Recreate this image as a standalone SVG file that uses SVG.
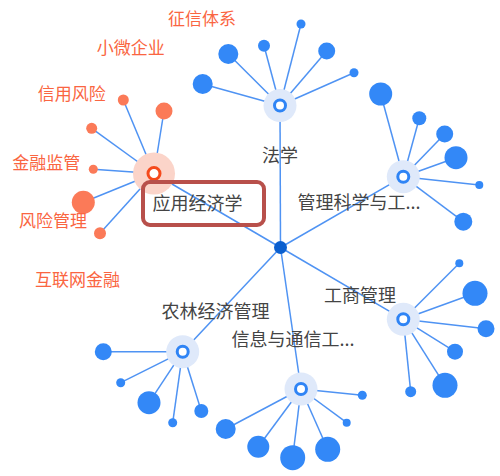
<svg xmlns="http://www.w3.org/2000/svg" width="500" height="476" viewBox="0 0 500 476">
<defs>
<style>
.ln{stroke:#4f93f3;stroke-width:1.5;fill:none}
.lf{fill:#3388f7}
.ol{fill:#fb7a58}
.halo{fill:#dfe9fa}
.ohalo{fill:#fbd4c9}
.hub{fill:#fff;stroke:#2f84f5;stroke-width:3}
.ohub{fill:#fff;stroke:#f54a1c;stroke-width:3}
.lab{font-family:"Noto Sans CJK SC","Noto Sans",sans-serif;font-size:18px;fill:#444}
.olab{font-family:"Noto Sans CJK SC","Noto Sans",sans-serif;font-size:17px;fill:#fa6541}
</style>
</defs>
<rect width="500" height="476" fill="#fff"/>
<g id="connectors">
<line class="ln" x1="280.5" y1="247.5" x2="154" y2="173.5"/>
<line class="ln" x1="280.5" y1="247.5" x2="280" y2="105.5"/>
<line class="ln" x1="280.5" y1="247.5" x2="403.3" y2="176.7"/>
<line class="ln" x1="280.5" y1="247.5" x2="403.3" y2="319.3"/>
<line class="ln" x1="280.5" y1="247.5" x2="301" y2="389"/>
<line class="ln" x1="280.5" y1="247.5" x2="182.7" y2="351.7"/>
<!-- 应用经济学 -->
<line class="ln" x1="154" y1="173.5" x2="123.3" y2="100"/>
<line class="ln" x1="154" y1="173.5" x2="164" y2="111"/>
<line class="ln" x1="154" y1="173.5" x2="91.7" y2="128.3"/>
<line class="ln" x1="154" y1="173.5" x2="93.3" y2="169.3"/>
<line class="ln" x1="154" y1="173.5" x2="83.3" y2="202.3"/>
<line class="ln" x1="154" y1="173.5" x2="100" y2="233.3"/>
<!-- 法学 -->
<line class="ln" x1="280" y1="105.5" x2="202.7" y2="84"/>
<line class="ln" x1="280" y1="105.5" x2="228.3" y2="54"/>
<line class="ln" x1="280" y1="105.5" x2="264" y2="45.7"/>
<line class="ln" x1="280" y1="105.5" x2="301" y2="24"/>
<line class="ln" x1="280" y1="105.5" x2="326.7" y2="51"/>
<line class="ln" x1="280" y1="105.5" x2="354" y2="72.7"/>
<!-- 管理科学与工 -->
<line class="ln" x1="403.3" y1="176.7" x2="380.7" y2="94"/>
<line class="ln" x1="403.3" y1="176.7" x2="419.3" y2="118.3"/>
<line class="ln" x1="403.3" y1="176.7" x2="444.7" y2="134"/>
<line class="ln" x1="403.3" y1="176.7" x2="456" y2="157.7"/>
<line class="ln" x1="403.3" y1="176.7" x2="479.3" y2="185"/>
<line class="ln" x1="403.3" y1="176.7" x2="463.3" y2="221.7"/>
<!-- 工商管理 -->
<line class="ln" x1="403.3" y1="319.3" x2="459.3" y2="263.3"/>
<line class="ln" x1="403.3" y1="319.3" x2="475" y2="293.3"/>
<line class="ln" x1="403.3" y1="319.3" x2="486" y2="328.7"/>
<line class="ln" x1="403.3" y1="319.3" x2="455" y2="351.7"/>
<line class="ln" x1="403.3" y1="319.3" x2="445" y2="385.3"/>
<line class="ln" x1="403.3" y1="319.3" x2="410.7" y2="391.7"/>
<!-- 信息与通信工 -->
<line class="ln" x1="301" y1="389" x2="225.7" y2="429"/>
<line class="ln" x1="301" y1="389" x2="258.3" y2="446.7"/>
<line class="ln" x1="301" y1="389" x2="292.7" y2="457.7"/>
<line class="ln" x1="301" y1="389" x2="327.7" y2="449.3"/>
<line class="ln" x1="301" y1="389" x2="346.7" y2="422.7"/>
<line class="ln" x1="301" y1="389" x2="362.3" y2="395.3"/>
<!-- 农林经济管理 -->
<line class="ln" x1="182.7" y1="351.7" x2="103.3" y2="351.7"/>
<line class="ln" x1="182.7" y1="351.7" x2="120.7" y2="382.7"/>
<line class="ln" x1="182.7" y1="351.7" x2="149" y2="402.7"/>
<line class="ln" x1="182.7" y1="351.7" x2="172.7" y2="422.7"/>
<line class="ln" x1="182.7" y1="351.7" x2="201.3" y2="411"/>
</g>
<g id="center">
<circle cx="280.5" cy="247.5" r="6.5" fill="#0b5fcf"/>
</g>
<g id="node-yingyong">
<circle class="ohalo" cx="154" cy="173.5" r="21"/>
<circle class="ol" cx="123.3" cy="100" r="5.5"/>
<circle class="ol" cx="164" cy="111" r="8.5"/>
<circle class="ol" cx="91.7" cy="128.3" r="5.5"/>
<circle class="ol" cx="93.3" cy="169.3" r="4.5"/>
<circle class="ol" cx="83.3" cy="202.3" r="11.5"/>
<circle class="ol" cx="100" cy="233.3" r="6"/>
<circle class="ohub" cx="154" cy="173.5" r="6"/>
<text class="lab" x="152.5" y="210">应用经济学</text>
</g>
<g id="node-faxue">
<circle class="halo" cx="280" cy="105.5" r="16.5"/>
<circle class="lf" cx="202.7" cy="84" r="10"/>
<circle class="lf" cx="228.3" cy="54" r="10"/>
<circle class="lf" cx="264" cy="45.7" r="6"/>
<circle class="lf" cx="301" cy="24" r="4.5"/>
<circle class="lf" cx="326.7" cy="51" r="8.5"/>
<circle class="lf" cx="354" cy="72.7" r="4.5"/>
<circle class="hub" cx="280" cy="105.5" r="5.5"/>
<text class="lab" x="280" y="162" text-anchor="middle">法学</text>
</g>
<g id="node-guanli">
<circle class="halo" cx="403.3" cy="176.7" r="16.5"/>
<circle class="lf" cx="380.7" cy="94" r="11.5"/>
<circle class="lf" cx="419.3" cy="118.3" r="7"/>
<circle class="lf" cx="444.7" cy="134" r="8.5"/>
<circle class="lf" cx="456" cy="157.7" r="11.5"/>
<circle class="lf" cx="479.3" cy="185" r="4"/>
<circle class="lf" cx="463.3" cy="221.7" r="9"/>
<circle class="hub" cx="403.3" cy="176.7" r="5.5"/>
<text class="lab" x="297.5" y="209">管理科学与工...</text>
</g>
<g id="node-gongshang">
<circle class="halo" cx="403.3" cy="319.3" r="16.5"/>
<circle class="lf" cx="459.3" cy="263.3" r="4"/>
<circle class="lf" cx="475" cy="293.3" r="12.5"/>
<circle class="lf" cx="486" cy="328.7" r="8.5"/>
<circle class="lf" cx="455" cy="351.7" r="8"/>
<circle class="lf" cx="445" cy="385.3" r="12.5"/>
<circle class="lf" cx="410.7" cy="391.7" r="5.5"/>
<circle class="hub" cx="403.3" cy="319.3" r="5.5"/>
<text class="lab" x="324" y="301.5">工商管理</text>
</g>
<g id="node-xinxi">
<circle class="halo" cx="301" cy="389" r="16.5"/>
<circle class="lf" cx="225.7" cy="429" r="10"/>
<circle class="lf" cx="258.3" cy="446.7" r="11"/>
<circle class="lf" cx="292.7" cy="457.7" r="12.5"/>
<circle class="lf" cx="327.7" cy="449.3" r="12.5"/>
<circle class="lf" cx="346.7" cy="422.7" r="4"/>
<circle class="lf" cx="362.3" cy="395.3" r="4.5"/>
<circle class="hub" cx="301" cy="389" r="5.5"/>
<text class="lab" x="231.5" y="345.8">信息与通信工...</text>
</g>
<g id="node-nonglin">
<circle class="halo" cx="182.7" cy="351.7" r="16.5"/>
<circle class="lf" cx="103.3" cy="351.7" r="8.5"/>
<circle class="lf" cx="120.7" cy="382.7" r="4.5"/>
<circle class="lf" cx="149" cy="402.7" r="11.5"/>
<circle class="lf" cx="172.7" cy="422.7" r="4.5"/>
<circle class="lf" cx="201.3" cy="411" r="7"/>
<circle class="hub" cx="182.7" cy="351.7" r="5.5"/>
<text class="lab" x="161.5" y="317.8">农林经济管理</text>
</g>
<g id="orange-labels">
<text class="olab" x="168" y="25.3">征信体系</text>
<text class="olab" x="96.7" y="53.8">小微企业</text>
<text class="olab" x="37.7" y="100.3">信用风险</text>
<text class="olab" x="12.3" y="169">金融监管</text>
<text class="olab" x="19" y="226.5">风险管理</text>
<text class="olab" x="35" y="286.3">互联网金融</text>
</g>
<g id="highlight">
<rect x="143" y="182" width="121" height="43" rx="7" fill="none" stroke="#b8504b" stroke-width="4"/>
</g>
</svg>
